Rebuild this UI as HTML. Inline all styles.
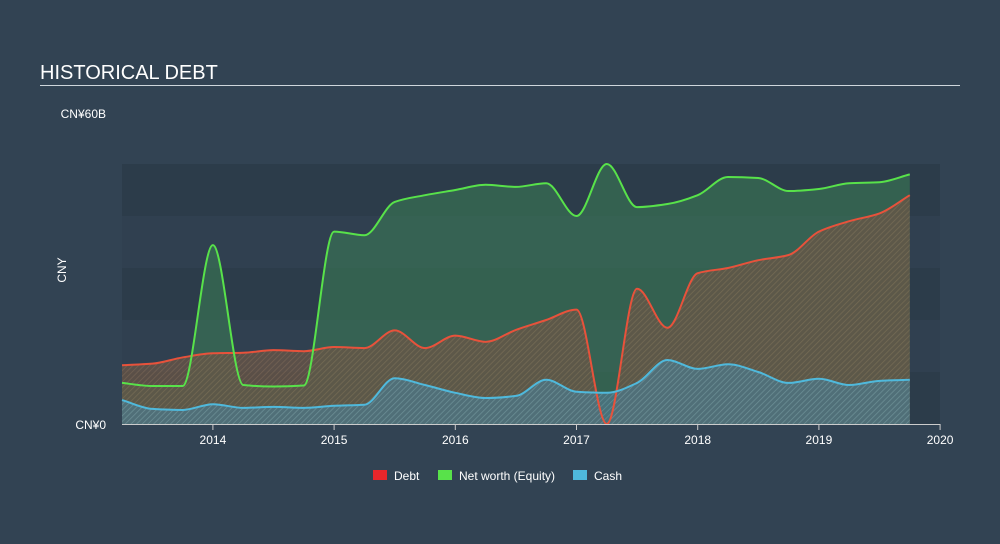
<!DOCTYPE html>
<html><head><meta charset="utf-8"><style>
body{margin:0;background:#324353;font-family:"Liberation Sans",sans-serif;}
svg{display:block}
</style></head><body>
<svg width="1000" height="544">
<defs>
<pattern id="hatchD" width="4" height="4" patternUnits="userSpaceOnUse" patternTransform="rotate(45)"><rect width="4" height="4" fill="#6a5546"/><line x1="0" y1="0" x2="0" y2="4" stroke="#8a6e55" stroke-width="1.5"/></pattern>
<pattern id="hatchC" width="4" height="4" patternUnits="userSpaceOnUse" patternTransform="rotate(45)"><rect width="4" height="4" fill="#4d7584"/><line x1="0" y1="0" x2="0" y2="4" stroke="#6a98a6" stroke-width="1.5"/></pattern>
</defs>
<rect width="1000" height="544" fill="#324353"/>
<text x="40" y="79" fill="#fff" font-size="20">HISTORICAL DEBT</text>
<rect x="40" y="85" width="920" height="1" fill="#cfd6dc"/>
<g id="bands"></g>
<text x="106" y="118" fill="#fff" font-size="12" text-anchor="end">CN¥60B</text>
<text x="106" y="429" fill="#fff" font-size="12" text-anchor="end">CN¥0</text>
<text x="66" y="270" fill="#fff" font-size="12" text-anchor="middle" transform="rotate(-90 66 270)">CNY</text>
<g id="plot"></g>
<g id="lines"></g>
<g id="xaxis"></g>
<g>
<rect x="373" y="470" width="14" height="10" fill="#e8262b"/>
<text x="394" y="480" fill="#fff" font-size="12">Debt</text>
<rect x="438" y="470" width="14" height="10" fill="#58e24a"/>
<text x="459" y="480" fill="#fff" font-size="12">Net worth (Equity)</text>
<rect x="573" y="470" width="14" height="10" fill="#4fb9dc"/>
<text x="594" y="480" fill="#fff" font-size="12">Cash</text>
</g>
</svg>
<script>
const dates=[2013.25,2013.5,2013.75,2014,2014.25,2014.5,2014.75,2015,2015.25,2015.5,2015.75,2016,2016.25,2016.5,2016.75,2017,2017.25,2017.5,2017.75,2018,2018.25,2018.5,2018.75,2019,2019.25,2019.5,2019.75];
const debt=[11.3,11.6,12.8,13.6,13.7,14.2,14.0,14.8,14.6,18.0,14.6,17.0,15.8,18.1,20.0,22.0,0,26.0,18.5,29.0,30.0,31.5,32.5,37.0,39.0,40.5,44.0];
const equity=[7.9,7.3,7.3,34.4,7.5,7.2,7.4,37.0,36.3,42.7,44.0,45.0,46.0,45.6,46.3,40.0,50.0,41.7,42.3,44.0,47.5,47.3,44.8,45.2,46.3,46.5,48.0];
const cash=[4.6,2.9,2.7,3.8,3.1,3.3,3.1,3.5,3.7,8.8,7.5,6.0,5.0,5.4,8.5,6.2,6.0,7.9,12.3,10.6,11.5,10.0,7.9,8.7,7.5,8.3,8.5];
const xTicks=[2014,2015,2016,2017,2018,2019,2020];
const NS="http://www.w3.org/2000/svg";
const x=d=>122+(d-2013.25)*121.2, y=v=>424-v*5.2;
const plot=document.getElementById('plot'),lines=document.getElementById('lines'),bands=document.getElementById('bands'),xa=document.getElementById('xaxis');
for(let i=0;i<5;i++){const r=document.createElementNS(NS,'rect');
r.setAttribute('x',122);r.setAttribute('y',y((i+1)*10));r.setAttribute('width',818);r.setAttribute('height',52);
r.setAttribute('fill',i%2==0?'#2c3c4a':'#304050');


bands.appendChild(r);}
function path(vals){const p=dates.map((d,i)=>[x(d),y(vals[i])]);const n=p.length;
const dl=[],m=[];for(let i=0;i<n-1;i++)dl.push((p[i+1][1]-p[i][1])/(p[i+1][0]-p[i][0]));
for(let i=0;i<n;i++){if(i==0)m.push(dl[0]);else if(i==n-1)m.push(dl[n-2]);else if(dl[i-1]*dl[i]<=0)m.push(0);else{const h0=p[i][0]-p[i-1][0],h1=p[i+1][0]-p[i][0];m.push(3*(h0+h1)/((2*h1+h0)/dl[i-1]+(h1+2*h0)/dl[i]));}}
let s='M'+p[0][0]+','+p[0][1];
for(let i=0;i<n-1;i++){const h=(p[i+1][0]-p[i][0])/3;
s+=` C${p[i][0]+h},${p[i][1]+m[i]*h} ${p[i+1][0]-h},${p[i+1][1]-m[i+1]*h} ${p[i+1][0]},${p[i+1][1]}`;}return s;}
function area(vals,fill,name,op){const base=` L${x(dates[dates.length-1])},424 L${x(dates[0])},424 Z`;
const a=document.createElementNS(NS,'path');a.setAttribute('d',path(vals)+base);a.setAttribute('fill',fill);a.setAttribute('fill-opacity',op);


plot.appendChild(a);}
function line(vals,stroke,name){const l=document.createElementNS(NS,'path');l.setAttribute('d',path(vals));l.setAttribute('fill','none');l.setAttribute('stroke',stroke);l.setAttribute('stroke-width',2);


lines.appendChild(l);}
area(equity,'#3a7a55','equity',0.6);
area(debt,'url(#hatchD)','debt',0.75);
area(cash,'url(#hatchC)','cash',0.8);
line(debt,'#e8523b','debt');
line(equity,'#58e24a','equity');
line(cash,'#4fb9dc','cash');
const ax=document.createElementNS(NS,'line');ax.setAttribute('x1',122);ax.setAttribute('x2',940);ax.setAttribute('y1',424.5);ax.setAttribute('y2',424.5);ax.setAttribute('stroke','#ccc');


xa.appendChild(ax);
xTicks.forEach(t=>{const l=document.createElementNS(NS,'line');l.setAttribute('x1',x(t));l.setAttribute('x2',x(t));l.setAttribute('y1',424);l.setAttribute('y2',430);l.setAttribute('stroke','#ccc');


xa.appendChild(l);
const tx=document.createElementNS(NS,'text');tx.setAttribute('x',x(t));tx.setAttribute('y',444);tx.setAttribute('fill','#fff');tx.setAttribute('font-size','12');tx.setAttribute('text-anchor','middle');tx.textContent=t;


xa.appendChild(tx);});
</script>
</body></html>
